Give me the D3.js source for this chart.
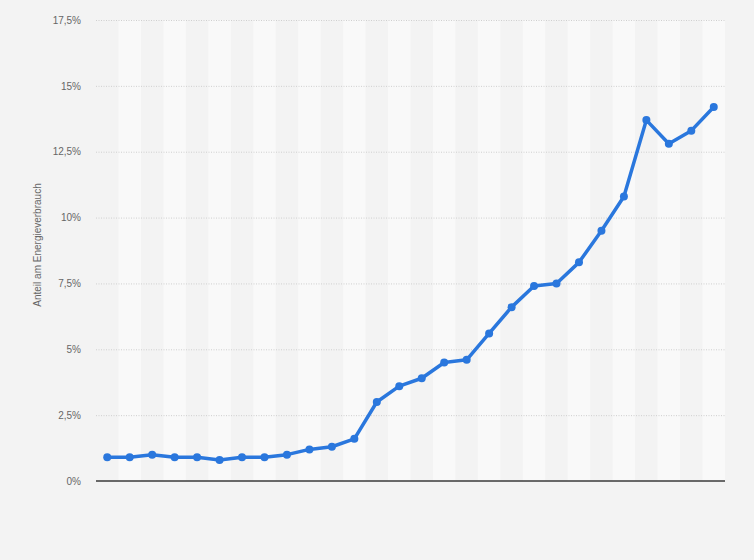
<!DOCTYPE html>
<html>
<head>
<meta charset="utf-8">
<script src="https://cdn.jsdelivr.net/npm/d3@7"></script>
<style>
  html, body { margin: 0; padding: 0; background: #f3f3f3; }
  svg { display: block; }
  text { font-family: "Liberation Sans", Arial, sans-serif; }
</style>
</head>
<body>
<svg id="chart" width="754" height="560"></svg>
<script>
const categories = ["1990","1991","1992","1993","1994","1995","1996","1997","1998","1999",
  "2000","2001","2002","2003","2004","2005","2006","2007","2008","2009",
  "2010","2011","2012","2013","2014","2015","2016","2017"];
const values = [0.9, 0.9, 1.0, 0.9, 0.9, 0.8, 0.9, 0.9, 1.0, 1.2,
  1.3, 1.6, 3.0, 3.6, 3.9, 4.5, 4.6, 5.6, 6.6, 7.4,
  7.5, 8.3, 9.5, 10.8, 13.7, 12.8, 13.3, 14.2];
const yTicks = [0, 2.5, 5, 7.5, 10, 12.5, 15, 17.5];
const yTickLabels = ["0%", "2,5%", "5%", "7,5%", "10%", "12,5%", "15%", "17,5%"];
const yAxisTitle = "Anteil am Energieverbrauch";

const svg = d3.select("#chart");
const margin = { left: 96, right: 29, top: 20, bottom: 79 };
const W = 754, H = 560;
const x = d3.scaleBand().domain(categories).range([margin.left, W - margin.right]).padding(0);
const y = d3.scaleLinear().domain([0, 17.5]).range([H - margin.bottom, margin.top]);

// alternating bands
svg.append("g").selectAll("rect")
  .data(categories.filter((d, i) => i % 2 === 1))
  .join("rect")
  .attr("x", d => x(d))
  .attr("y", y(17.5))
  .attr("width", x.bandwidth())
  .attr("height", y(0) - y(17.5))
  .attr("fill", "#f9f9f9");

// y axis with gridlines
const yAxis = d3.axisLeft(y)
  .tickValues(yTicks)
  .tickFormat((d, i) => yTickLabels[i])
  .tickSize(-(W - margin.left - margin.right))
  .tickPadding(15);
const gy = svg.append("g").attr("transform", `translate(${margin.left},0)`).call(yAxis);
gy.select(".domain").remove();
gy.selectAll(".tick line")
  .attr("stroke", "#cfcfcf")
  .attr("stroke-dasharray", "1,1.5")
  .attr("stroke-width", 1);
gy.selectAll(".tick text")
  .attr("fill", "#666")
  .attr("font-size", 10);
gy.selectAll(".tick").filter(d => d === 0).select("line").remove();

// baseline
svg.append("line")
  .attr("x1", margin.left).attr("x2", W - margin.right)
  .attr("y1", y(0)).attr("y2", y(0))
  .attr("stroke", "#3a3a3a").attr("stroke-width", 1.5);

// y axis title
svg.append("text")
  .attr("transform", `translate(41,245) rotate(-90)`)
  .attr("text-anchor", "middle")
  .attr("fill", "#666")
  .attr("font-size", 10)
  .text(yAxisTitle);

// line
const data = categories.map((c, i) => ({ c, v: values[i] }));
const line = d3.line()
  .x(d => x(d.c) + x.bandwidth() / 2)
  .y(d => y(d.v));
svg.append("path")
  .datum(data)
  .attr("d", line)
  .attr("fill", "none")
  .attr("stroke", "#2a77dd")
  .attr("stroke-width", 3.5)
  .attr("stroke-linejoin", "round");

svg.append("g").selectAll("circle")
  .data(data)
  .join("circle")
  .attr("cx", d => x(d.c) + x.bandwidth() / 2)
  .attr("cy", d => y(d.v))
  .attr("r", 4)
  .attr("fill", "#2a77dd");
</script>
</body>
</html>
